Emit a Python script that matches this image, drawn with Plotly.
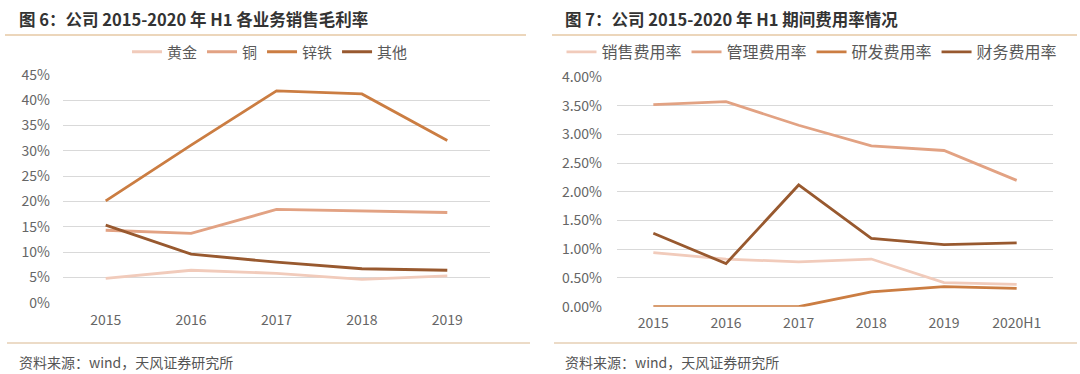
import plotly.graph_objects as go

# ---- data: chart 1 (gross margin by business) ----
years1 = ["2015", "2016", "2017", "2018", "2019"]
gold = [0.048, 0.064, 0.058, 0.046, 0.053]
copper = [0.143, 0.137, 0.184, 0.181, 0.178]
zinc_iron = [0.201, 0.311, 0.418, 0.412, 0.320]
other = [0.153, 0.096, 0.080, 0.067, 0.064]

# ---- data: chart 2 (expense ratios) ----
years2 = ["2015", "2016", "2017", "2018", "2019", "2020H1"]
selling = [0.0094, 0.0083, 0.0078, 0.0083, 0.0042, 0.0039]
admin = [0.0352, 0.0357, 0.0316, 0.0280, 0.0272, 0.0220]
rnd = [0.0000, 0.0000, 0.0000, 0.0026, 0.0035, 0.0032]
finance = [0.0128, 0.0075, 0.0212, 0.0119, 0.0108, 0.0111]

names1 = ["黄金", "铜", "锌铁", "其他"]
names2 = ["销售费用率", "管理费用率", "研发费用率", "财务费用率"]
colors = ["#F1CBBB", "#E2A283", "#CB7D42", "#98592F"]

W, H = 1080, 374
def px(x):
    return x / W
def py(y):
    return (H - y) / H

fig = go.Figure()
for n, v, c in zip(names1, [gold, copper, zinc_iron, other], colors):
    fig.add_trace(go.Scatter(x=years1, y=v, name=n, mode="lines",
                             line=dict(color=c, width=2.8),
                             xaxis="x", yaxis="y", legend="legend"))
for n, v, c in zip(names2, [selling, admin, rnd, finance], colors):
    fig.add_trace(go.Scatter(x=years2, y=v, name=n, mode="lines",
                             line=dict(color=c, width=2.8),
                             xaxis="x2", yaxis="y2", legend="legend2"))

font_family = "Noto Sans CJK SC, Noto Sans, sans-serif"
tickfont = dict(family=font_family, size=14, color="#666666")

fig.update_layout(
    width=W, height=H,
    margin=dict(l=0, r=0, t=0, b=0),
    paper_bgcolor="white", plot_bgcolor="white",
    font=dict(family=font_family),
    xaxis=dict(domain=[px(63), px(490)], anchor="y", type="category",
               range=[-0.5, 4.5], showgrid=False, showline=False,
               ticks="", tickfont=dict(family=font_family, size=14, color="#666666"),
               ticklabelstandoff=7, automargin=False),
    yaxis=dict(domain=[py(302.7), py(74.7)], anchor="x", range=[0, 0.45],
               dtick=0.05, tickformat=".0%", showgrid=True, gridcolor="#D9D9D9",
               gridwidth=1, zeroline=False, showline=False, ticks="",
               tickfont=tickfont, ticklabelstandoff=12, automargin=False),
    xaxis2=dict(domain=[px(617), px(1053)], anchor="y2", type="category",
                range=[-0.5, 5.5], showgrid=False, showline=False,
                ticks="", tickfont=dict(family=font_family, size=14, color="#666666"),
                ticklabelstandoff=6, automargin=False),
    yaxis2=dict(domain=[py(306.7), py(77)], anchor="x2", range=[0, 0.04],
                dtick=0.005, tickformat=".2%", showgrid=True, gridcolor="#D9D9D9",
                gridwidth=1, zeroline=False, showline=False, ticks="",
                tickfont=tickfont, ticklabelstandoff=14, automargin=False),
    legend=dict(orientation="h", x=px(270), xanchor="center", y=py(52), yanchor="middle",
                font=dict(family=font_family, size=15, color="#595959"),
                bgcolor="rgba(0,0,0,0)", itemwidth=30, traceorder="normal"),
    legend2=dict(orientation="h", x=px(812), xanchor="center", y=py(52), yanchor="middle",
                 font=dict(family=font_family, size=16, color="#595959"),
                 bgcolor="rgba(0,0,0,0)", itemwidth=30, traceorder="normal"),
    showlegend=True,
)

# titles
fig.add_annotation(text="<b>图 6：公司 2015-2020 年 H1 各业务销售毛利率</b>",
                   x=px(17), y=py(19), xref="paper", yref="paper",
                   xanchor="left", yanchor="middle", showarrow=False,
                   font=dict(family=font_family, size=16.5, color="#333333"))
fig.add_annotation(text="<b>图 7：公司 2015-2020 年 H1 期间费用率情况</b>",
                   x=px(563), y=py(19), xref="paper", yref="paper",
                   xanchor="left", yanchor="middle", showarrow=False,
                   font=dict(family=font_family, size=16.5, color="#333333"))
# sources
for x0 in [17, 563]:
    fig.add_annotation(text="资料来源：wind，天风证券研究所",
                       x=px(x0), y=py(362), xref="paper", yref="paper",
                       xanchor="left", yanchor="middle", showarrow=False,
                       font=dict(family=font_family, size=14, color="#555555"))

# separator lines
for (x0, x1) in [(5, 526), (552, 1077)]:
    fig.add_shape(type="line", xref="paper", yref="paper",
                  x0=px(x0), x1=px(x1), y0=py(35), y1=py(35),
                  line=dict(color="#E6C9A4", width=1.5))
for (x0, x1) in [(7, 530), (554, 1077)]:
    fig.add_shape(type="line", xref="paper", yref="paper",
                  x0=px(x0), x1=px(x1), y0=py(343), y1=py(343),
                  line=dict(color="#E6CFB4", width=1.5))

fig.write_html("out.html", config={"displayModeBar": False},
               post_script="document.body.style.margin='0';")
